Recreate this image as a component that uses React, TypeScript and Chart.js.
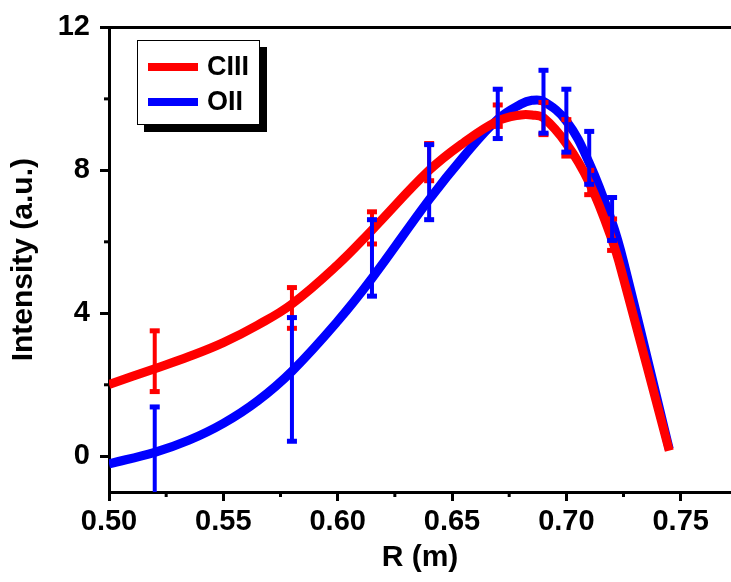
import React, { useEffect, useRef } from 'react';
import { Chart, registerables } from 'chart.js';

Chart.register(...registerables);

// Fitted curves
const fitR = [0.50, 0.52, 0.535, 0.55, 0.565, 0.58, 0.60, 0.615, 0.64, 0.655, 0.67, 0.68, 0.685, 0.69, 0.70, 0.71, 0.72, 0.725, 0.745];
const ciiiFit = [2.01, 2.45, 2.79, 3.18, 3.67, 4.26, 5.36, 6.33, 8.00, 8.77, 9.38, 9.55, 9.55, 9.47, 8.75, 7.66, 6.05, 4.97, 0.16];
const oiiFit = [-0.21, 0.11, 0.45, 0.92, 1.55, 2.38, 3.78, 4.98, 7.18, 8.38, 9.43, 9.85, 9.96, 9.93, 9.38, 8.21, 6.55, 5.45, 0.20];

// Measured points with error bars
const measR = [0.52, 0.58, 0.615, 0.64, 0.67, 0.69, 0.70, 0.71, 0.72];
const ciiiVal = [2.66, 4.15, 6.39, 8.23, 9.53, 9.45, 8.91, 7.66, 6.20];
const ciiiErr = [0.85, 0.57, 0.45, 0.52, 0.30, 0.45, 0.51, 0.34, 0.44];
const oiiVal = [0.10, 2.15, 5.55, 7.67, 9.58, 9.92, 9.39, 8.35, 6.64];
const oiiErr = [1.28, 1.73, 1.07, 1.05, 0.69, 0.88, 0.88, 0.74, 0.60];

const seriesNames = ['CIII', 'OII'];
const seriesColors = ['#ff0000', '#0000ff'];

const xTicks = [0.50, 0.55, 0.60, 0.65, 0.70, 0.75];
const xMinor = [0.525, 0.575, 0.625, 0.675, 0.725];
const yTicks = [0, 4, 8, 12];
const yMinor = [2, 6, 10];

const FONT = 'Arial, "Liberation Sans", sans-serif';

export default function App() {
  const ref = useRef<HTMLCanvasElement | null>(null);

  useEffect(() => {
    document.body.style.margin = '0';
    document.body.style.overflow = 'hidden';
    const canvas = ref.current;
    if (!canvas) return;

    const errorBars = {
      id: 'errorBars',
      afterDatasetsDraw(chart: any) {
        const { ctx, chartArea, scales } = chart;
        const xs = scales.x;
        const ys = scales.y;
        ctx.save();
        ctx.beginPath();
        ctx.rect(chartArea.left, chartArea.top, chartArea.right - chartArea.left, chartArea.bottom - chartArea.top);
        ctx.clip();
        const sets = [
          { v: ciiiVal, e: ciiiErr, c: seriesColors[0] },
          { v: oiiVal, e: oiiErr, c: seriesColors[1] },
        ];
        sets.forEach((s) => {
          ctx.fillStyle = s.c;
          measR.forEach((r, i) => {
            const px = xs.getPixelForValue(r);
            const top = ys.getPixelForValue(s.v[i] + s.e[i]);
            const bot = ys.getPixelForValue(s.v[i] - s.e[i]);
            ctx.fillRect(px - 2, top, 4, bot - top);
            ctx.fillRect(px - 5, top - 2.5, 10, 5);
            ctx.fillRect(px - 5, bot - 2.5, 10, 5);
          });
        });
        ctx.restore();
      },
    };

    const decorations = {
      id: 'decorations',
      afterDraw(chart: any) {
        const { ctx, chartArea, scales } = chart;
        const xs = scales.x;
        const ys = scales.y;
        ctx.save();
        ctx.strokeStyle = '#000';
        ctx.lineWidth = 3;
        // top frame line
        ctx.beginPath();
        ctx.moveTo(chartArea.left - 1.5, chartArea.top);
        ctx.lineTo(chartArea.right, chartArea.top);
        ctx.stroke();
        // minor ticks
        xMinor.forEach((v) => {
          const px = xs.getPixelForValue(v);
          ctx.beginPath();
          ctx.moveTo(px, chartArea.bottom);
          ctx.lineTo(px, chartArea.bottom + 5);
          ctx.stroke();
        });
        yMinor.forEach((v) => {
          const py = ys.getPixelForValue(v);
          ctx.beginPath();
          ctx.moveTo(chartArea.left, py);
          ctx.lineTo(chartArea.left - 5, py);
          ctx.stroke();
        });

        // legend with shadow
        const bx = 137, by = 40, bw = 123, bh = 85;
        ctx.fillStyle = '#000';
        ctx.fillRect(bx + 7, by + 7, bw, bh);
        ctx.fillStyle = '#fff';
        ctx.fillRect(bx, by, bw, bh);
        ctx.lineWidth = 1;
        ctx.strokeStyle = '#000';
        ctx.strokeRect(bx + 0.5, by + 0.5, bw - 1, bh - 1);
        chart.data.datasets.forEach((ds: any, i: number) => {
          const ly = by + 27 + i * 35;
          ctx.strokeStyle = ds.borderColor;
          ctx.lineWidth = 8;
          ctx.beginPath();
          ctx.moveTo(bx + 11, ly);
          ctx.lineTo(bx + 61, ly);
          ctx.stroke();
          ctx.fillStyle = '#000';
          ctx.font = `bold 27px ${FONT}`;
          ctx.textBaseline = 'middle';
          ctx.textAlign = 'left';
          ctx.fillText(ds.label, bx + 70, ly + 1);
        });
        ctx.restore();
      },
    };

    const mk = (vals: number[], i: number) => ({
      label: seriesNames[i],
      data: fitR.map((r, k) => ({ x: r, y: vals[k] })),
      borderColor: seriesColors[i],
      backgroundColor: seriesColors[i],
      borderWidth: 9,
      pointRadius: 0,
      tension: 0.4,
      fill: false,
      borderCapStyle: 'butt' as const,
    });

    const chart = new Chart(canvas, {
      type: 'line',
      data: { datasets: [mk(ciiiFit, 0), mk(oiiFit, 1)] },
      options: {
        animation: false,
        responsive: false,
        devicePixelRatio: 1,
        layout: { padding: { top: 23, right: 0, bottom: 0, left: 0 } },
        plugins: { legend: { display: false }, tooltip: { enabled: false } },
        scales: {
          x: {
            type: 'linear',
            min: 0.5,
            max: 0.772,
            afterBuildTicks: (s: any) => {
              s.ticks = xTicks.map((v) => ({ value: v }));
            },
            afterFit: (s: any) => {
              s.height = 90;
            },
            ticks: {
              color: '#000',
              font: { family: FONT, size: 29, weight: 'bold' },
              padding: 4,
              maxRotation: 0,
              autoSkip: false,
              callback: (v: any) => Number(v).toFixed(2),
            },
            grid: { drawOnChartArea: false, drawTicks: true, tickLength: 9, tickWidth: 3, color: '#000' },
            border: { display: true, width: 3, color: '#000' },
            title: {
              display: true,
              text: 'R (m)',
              color: '#000',
              font: { family: FONT, size: 30, weight: 'bold' },
              padding: { top: 0, bottom: 6 },
            },
          },
          y: {
            type: 'linear',
            min: -1,
            max: 12,
            afterBuildTicks: (s: any) => {
              s.ticks = yTicks.map((v) => ({ value: v }));
            },
            afterFit: (s: any) => {
              s.width = 109;
            },
            ticks: {
              color: '#000',
              font: { family: FONT, size: 29, weight: 'bold' },
              padding: 10,
              autoSkip: false,
            },
            grid: { drawOnChartArea: false, drawTicks: true, tickLength: 9, tickWidth: 3, color: '#000' },
            border: { display: true, width: 3, color: '#000' },
            title: {
              display: true,
              text: 'Intensity (a.u.)',
              color: '#000',
              font: { family: FONT, size: 30, weight: 'bold' },
              padding: { top: 6, bottom: 0 },
            },
          },
        },
      },
      plugins: [errorBars, decorations],
    });

    return () => chart.destroy();
  }, []);

  return (
    <div style={{ width: 731, height: 582 }}>
      <canvas ref={ref} width={731} height={582} style={{ display: 'block' }} />
    </div>
  );
}
